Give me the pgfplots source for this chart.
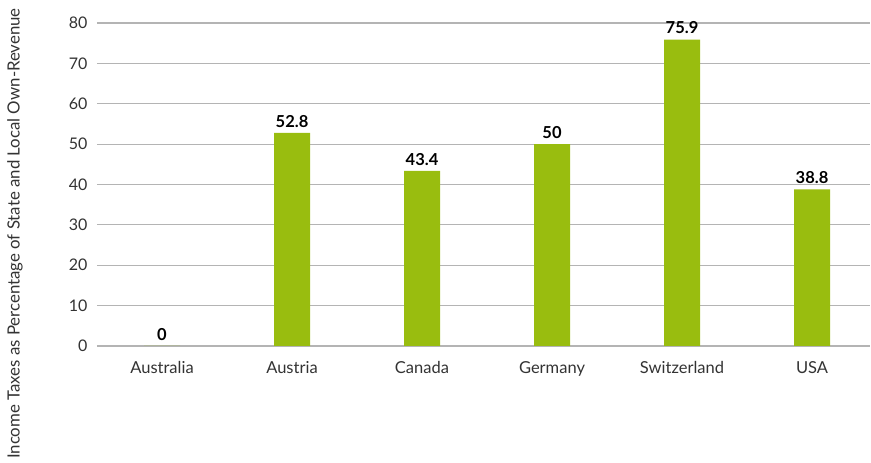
\documentclass[border=0pt]{standalone}
\usepackage{fontspec}
\setmainfont{Lato}
\usepackage{pgfplots}
\pgfplotsset{compat=1.18}
\definecolor{barg}{HTML}{99BD0F}
\definecolor{gridg}{HTML}{B4B4B4}
\definecolor{tickc}{HTML}{333333}
\begin{document}
\begin{tikzpicture}
\useasboundingbox (0,0) rectangle (871pt,463pt);
\begin{axis}[
  at={(97pt,117pt)}, anchor=south west,
  width=773pt, height=323pt, scale only axis,
  xmin=-0.5, xmax=5.446,
  ymin=0, ymax=80,
  ytick={0,10,...,80},
  xtick={0,1,2,3,4,5},
  xticklabels={Australia,Austria,Canada,Germany,Switzerland,USA},
  axis line style={draw=none},
  major tick length=0pt,
  ymajorgrids,
  grid style={gridg, line width=1.2pt},
  /pgf/number format/assume math mode=true,
  tick label style={font=\fontsize{16}{18}\selectfont, text=tickc},
  yticklabel style={xshift=-6pt},
  xticklabel style={yshift=-12pt, font=\fontsize{16.5}{18}\selectfont},
  ylabel={Income Taxes as Percentage of State and Local Own-Revenue},
  ylabel style={at={(axis description cs:-0.106,0.348)}, anchor=center, font=\fontsize{16.8}{19}\selectfont, text=tickc},
  nodes near coords,
  every node near coord/.append style={font=\bfseries\fontsize{16.5}{18}\selectfont, text=black, yshift=2pt},
  clip=false,
]
\addplot[ybar, bar width=36pt, fill=barg, draw=none] coordinates {
  (0,0) (1,52.8) (2,43.4) (3,50) (4,75.9) (5,38.8)
};
\end{axis}
\end{tikzpicture}
\end{document}
